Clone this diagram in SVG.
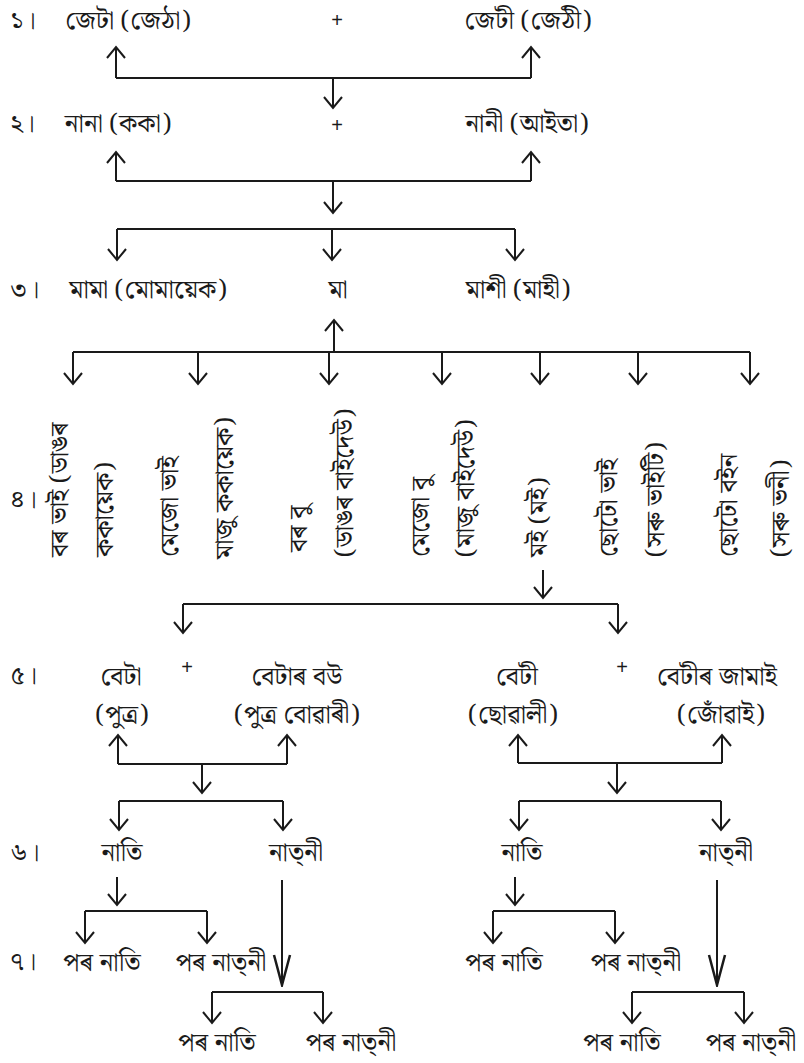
<svg xmlns="http://www.w3.org/2000/svg" width="804" height="1063" viewBox="0 0 804 1063">
<style>
text{font-family:"Noto Serif Bengali","Noto Sans Bengali","Lohit Assamese","Lohit Bengali","FreeSerif","Liberation Serif",serif;font-size:26px;fill:#1a1a1a}
.m{text-anchor:middle}
.p{font-family:"Liberation Sans",sans-serif;font-size:20px}
.c path{fill:none;stroke:#1a1a1a;stroke-width:2}
.c .a{marker-end:url(#ah)}
.c .b{marker-end:url(#bh)}
</style>
<defs>
<marker id="ah" markerUnits="userSpaceOnUse" viewBox="-14 -12 16 24" refX="0" refY="0" markerWidth="16" markerHeight="24" orient="auto">
<path d="M-11 -9 L0 0 L-11 9" fill="none" stroke="#1a1a1a" stroke-width="2"/>
</marker>
<marker id="bh" markerUnits="userSpaceOnUse" viewBox="-34 -12 36 24" refX="0" refY="0" markerWidth="36" markerHeight="24" orient="auto">
<path d="M-30 -8 L0 0 L-30 8" fill="none" stroke="#1a1a1a" stroke-width="2.5"/>
</marker>
</defs>
<rect width="804" height="1063" fill="#fff"/>
<g id="labels">
<text x="10" y="29">১।</text>
<text x="10" y="132">২।</text>
<text x="10" y="298">৩।</text>
<text x="10" y="508">৪।</text>
<text x="10" y="684">৫।</text>
<text x="10" y="861">৬।</text>
<text x="10" y="970">৭।</text>
</g>
<g id="row1">
<g id="jeta"><text class="m" x="128" y="29">জেটা (জেঠা)</text></g>
<text class="m p" x="337" y="27">+</text>
<g id="jeti"><text class="m" x="528" y="29">জেটী (জেঠী)</text></g>
</g>
<g id="row2">
<g id="nana"><text class="m" x="118" y="132">নানা (ককা)</text></g>
<text class="m p" x="337" y="132">+</text>
<g id="nani"><text class="m" x="527" y="132">নানী (আইতা)</text></g>
</g>
<g id="row3">
<g id="mama"><text class="m" x="148" y="298">মামা (মোমায়েক)</text></g>
<g id="ma"><text class="m" x="338" y="298">মা</text></g>
<g id="mashi"><text class="m" x="518" y="298">মাশী (মাহী)</text></g>
</g>
<g id="row4">
<g id="bor-bhai">
<text transform="translate(68 557) rotate(-90)">বৰ ভাই (ডাঙৰ</text>
<text transform="translate(113 557) rotate(-90)">ককায়েক)</text>
</g>
<g id="mejo-bhai">
<text transform="translate(178 557) rotate(-90)">মেজো ভাই</text>
<text transform="translate(233 559) rotate(-90)">মাজু ককায়েক)</text>
</g>
<g id="bor-bu">
<text transform="translate(307 552) rotate(-90)">বৰ বু</text>
<text transform="translate(353 557) rotate(-90)">(ডাঙৰ বাইদেউ)</text>
</g>
<g id="mejo-bu">
<text transform="translate(429 557) rotate(-90)">মেজো বু</text>
<text transform="translate(474 557) rotate(-90)">(মাজু বাইদেউ)</text>
</g>
<g id="moi">
<text transform="translate(547 557) rotate(-90)">মই (মই)</text>
</g>
<g id="choto-bhai">
<text transform="translate(617 557) rotate(-90)">ছোটো ভাই</text>
<text transform="translate(664 557) rotate(-90)">(সৰু ভাইটি)</text>
</g>
<g id="choto-boin">
<text transform="translate(737 557) rotate(-90)">ছোটো বইন</text>
<text transform="translate(789 557) rotate(-90)">(সৰু ভনী)</text>
</g>
</g>
<g id="row5">
<g id="beta"><text class="m" x="121" y="685">বেটা</text><text class="m" x="122" y="723">(পুত্ৰ)</text></g>
<text class="m p" x="187" y="674">+</text>
<g id="betar-bou"><text class="m" x="297" y="685">বেটাৰ বউ</text><text class="m" x="297" y="723">(পুত্ৰ বোৱাৰী)</text></g>
<g id="beti"><text class="m" x="517" y="685">বেটী</text><text class="m" x="513" y="723">(ছোৱালী)</text></g>
<text class="m p" x="622" y="674">+</text>
<g id="betir-jamai"><text class="m" x="717" y="685">বেটীৰ জামাই</text><text class="m" x="721" y="723">(জোঁৱাই)</text></g>
</g>
<g id="row6">
<g id="nati-l"><text class="m" x="122" y="861">নাতি</text></g>
<g id="natni-l"><text class="m" x="296" y="861">নাত্‌নী</text></g>
<g id="nati-r"><text class="m" x="522" y="861">নাতি</text></g>
<g id="natni-r"><text class="m" x="726" y="861">নাত্‌নী</text></g>
</g>
<g id="row7">
<g id="por-nati-1"><text class="m" x="102" y="971">পৰ নাতি</text></g>
<g id="por-natni-1"><text class="m" x="221" y="971">পৰ নাত্‌নী</text></g>
<g id="por-nati-2"><text class="m" x="217" y="1051">পৰ নাতি</text></g>
<g id="por-natni-2"><text class="m" x="351" y="1051">পৰ নাত্‌নী</text></g>
<g id="por-nati-3"><text class="m" x="504" y="971">পৰ নাতি</text></g>
<g id="por-natni-3"><text class="m" x="636" y="971">পৰ নাত্‌নী</text></g>
<g id="por-nati-4"><text class="m" x="622" y="1051">পৰ নাতি</text></g>
<g id="por-natni-4"><text class="m" x="751" y="1051">পৰ নাত্‌নী</text></g>
</g>
<g id="connectors" class="c">
<path d="M116 78 L531 78"/>
<path class="a" d="M116 78 L116 47"/>
<path class="a" d="M531 78 L531 47"/>
<path class="a" d="M333 78 L333 108"/>
<path d="M116 181 L531 181"/>
<path class="a" d="M116 181 L116 152"/>
<path class="a" d="M531 181 L531 152"/>
<path class="a" d="M333 181 L333 213"/>
<path d="M117 229 L515 229"/>
<path class="a" d="M117 229 L117 260"/>
<path class="a" d="M332 229 L332 260"/>
<path class="a" d="M515 229 L515 260"/>
<path class="a" d="M334 352 L334 320"/>
<path d="M73 352 L750 352"/>
<path class="a" d="M73 352 L73 384"/>
<path class="a" d="M198 352 L198 384"/>
<path class="a" d="M329 352 L329 384"/>
<path class="a" d="M442 352 L442 384"/>
<path class="a" d="M540 352 L540 384"/>
<path class="a" d="M638 352 L638 384"/>
<path class="a" d="M750 352 L750 384"/>
<path class="a" d="M543 570 L543 598"/>
<path d="M183 604 L618 604"/>
<path class="a" d="M183 604 L183 633"/>
<path class="a" d="M618 604 L618 633"/>
<path d="M118 764 L287 764"/>
<path class="a" d="M118 764 L118 735"/>
<path class="a" d="M287 764 L287 735"/>
<path class="a" d="M202 764 L202 793"/>
<path d="M119 801 L283 801"/>
<path class="a" d="M119 801 L119 830"/>
<path class="a" d="M283 801 L283 830"/>
<path d="M518 763 L722 763"/>
<path class="a" d="M518 763 L518 735"/>
<path class="a" d="M722 763 L722 735"/>
<path class="a" d="M617 763 L617 793"/>
<path d="M519 801 L721 801"/>
<path class="a" d="M519 801 L519 830"/>
<path class="a" d="M721 801 L721 830"/>
<path class="a" d="M117 877 L117 905"/>
<path d="M85 911 L207 911"/>
<path class="a" d="M85 911 L85 943"/>
<path class="a" d="M207 911 L207 943"/>
<path class="b" d="M282 880 L282 985"/>
<path d="M212 992 L323 992"/>
<path class="a" d="M212 992 L212 1023"/>
<path class="a" d="M323 992 L323 1023"/>
<path class="a" d="M515 877 L515 905"/>
<path d="M493 911 L615 911"/>
<path class="a" d="M493 911 L493 943"/>
<path class="a" d="M615 911 L615 943"/>
<path class="b" d="M717 880 L717 985"/>
<path d="M632 992 L744 992"/>
<path class="a" d="M632 992 L632 1023"/>
<path class="a" d="M744 992 L744 1023"/>
</g>
</svg>
